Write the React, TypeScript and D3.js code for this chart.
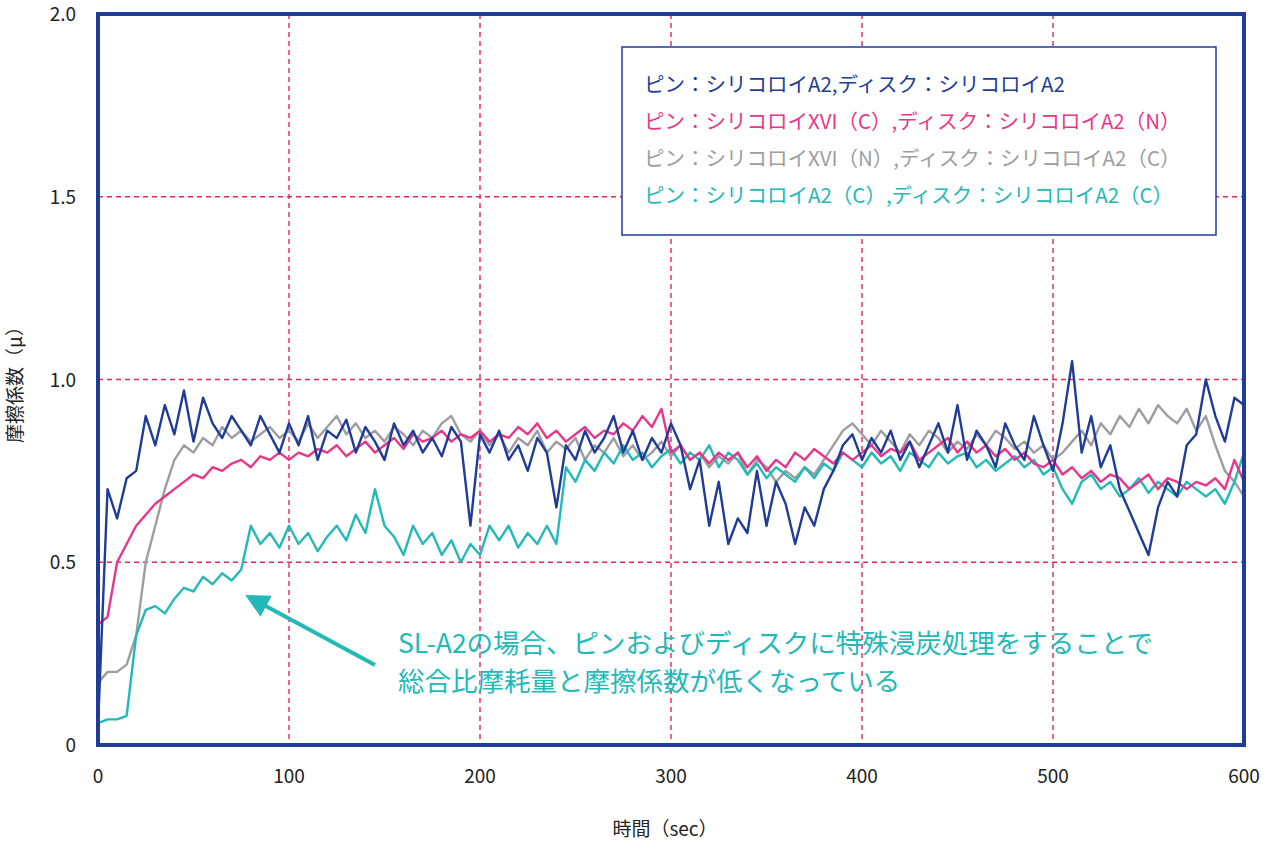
import React from 'react';
import * as d3 from 'd3';

const times = d3.range(0, 601, 5);

const blueValues = [0.05,0.7,0.62,0.73,0.75,0.9,0.82,0.93,0.85,0.97,0.83,0.95,0.88,0.84,0.9,0.86,0.82,0.9,0.85,0.8,0.88,0.82,0.9,0.78,0.86,0.84,0.89,0.8,0.87,0.83,0.78,0.88,0.82,0.86,0.8,0.84,0.79,0.87,0.83,0.6,0.85,0.8,0.86,0.78,0.82,0.75,0.84,0.8,0.65,0.82,0.78,0.86,0.8,0.84,0.9,0.8,0.86,0.78,0.84,0.8,0.88,0.82,0.7,0.78,0.6,0.72,0.55,0.62,0.58,0.75,0.6,0.72,0.66,0.55,0.65,0.6,0.7,0.75,0.82,0.85,0.78,0.84,0.8,0.86,0.78,0.83,0.76,0.82,0.88,0.8,0.93,0.78,0.86,0.82,0.76,0.88,0.82,0.78,0.9,0.82,0.75,0.88,1.05,0.8,0.9,0.76,0.82,0.7,0.64,0.58,0.52,0.65,0.72,0.68,0.82,0.85,1.0,0.9,0.83,0.95,0.93];
const pinkValues = [0.33,0.35,0.5,0.55,0.6,0.63,0.66,0.68,0.7,0.72,0.74,0.73,0.76,0.75,0.77,0.78,0.76,0.79,0.78,0.8,0.78,0.8,0.79,0.81,0.8,0.82,0.79,0.81,0.83,0.8,0.82,0.84,0.81,0.85,0.83,0.84,0.86,0.83,0.85,0.84,0.86,0.83,0.85,0.84,0.87,0.85,0.88,0.84,0.86,0.83,0.85,0.87,0.84,0.86,0.85,0.88,0.86,0.9,0.87,0.92,0.8,0.82,0.78,0.8,0.77,0.8,0.78,0.8,0.76,0.79,0.75,0.78,0.76,0.8,0.78,0.81,0.79,0.77,0.8,0.78,0.8,0.82,0.79,0.81,0.8,0.83,0.78,0.8,0.82,0.84,0.8,0.83,0.8,0.82,0.79,0.81,0.78,0.8,0.77,0.76,0.78,0.74,0.76,0.73,0.75,0.72,0.74,0.73,0.7,0.72,0.74,0.7,0.73,0.72,0.7,0.72,0.71,0.73,0.7,0.78,0.72];
const grayValues = [0.17,0.2,0.2,0.22,0.3,0.5,0.6,0.7,0.78,0.82,0.8,0.84,0.82,0.87,0.84,0.86,0.83,0.85,0.87,0.84,0.86,0.83,0.88,0.84,0.87,0.9,0.85,0.88,0.84,0.86,0.83,0.87,0.85,0.82,0.86,0.84,0.88,0.9,0.85,0.83,0.86,0.82,0.85,0.8,0.84,0.82,0.86,0.8,0.83,0.81,0.84,0.78,0.82,0.8,0.84,0.79,0.82,0.78,0.8,0.83,0.79,0.82,0.78,0.8,0.76,0.79,0.77,0.8,0.74,0.78,0.76,0.72,0.75,0.73,0.76,0.74,0.78,0.82,0.86,0.88,0.85,0.82,0.86,0.83,0.8,0.85,0.82,0.86,0.84,0.8,0.83,0.81,0.85,0.82,0.86,0.84,0.81,0.83,0.8,0.82,0.78,0.8,0.83,0.86,0.82,0.88,0.85,0.9,0.87,0.92,0.88,0.93,0.9,0.88,0.92,0.86,0.9,0.82,0.75,0.72,0.68];
const cyanValues = [0.06,0.07,0.07,0.08,0.3,0.37,0.38,0.36,0.4,0.43,0.42,0.46,0.44,0.47,0.45,0.48,0.6,0.55,0.58,0.54,0.6,0.55,0.58,0.53,0.57,0.6,0.56,0.63,0.58,0.7,0.6,0.57,0.52,0.6,0.55,0.58,0.52,0.56,0.5,0.55,0.52,0.6,0.56,0.6,0.54,0.58,0.55,0.6,0.55,0.76,0.72,0.78,0.75,0.8,0.77,0.82,0.78,0.8,0.76,0.79,0.81,0.77,0.8,0.78,0.82,0.76,0.8,0.78,0.74,0.77,0.73,0.76,0.74,0.72,0.76,0.73,0.77,0.75,0.8,0.78,0.76,0.8,0.77,0.79,0.75,0.8,0.78,0.76,0.8,0.77,0.79,0.8,0.76,0.78,0.75,0.77,0.79,0.76,0.78,0.74,0.76,0.7,0.66,0.72,0.74,0.7,0.72,0.68,0.7,0.73,0.69,0.72,0.7,0.68,0.72,0.7,0.68,0.7,0.66,0.72,0.8];

const xTicks = [0, 100, 200, 300, 400, 500, 600];
const yTicks = [0, 0.5, 1.0, 1.5, 2.0];
const yTickLabels = ['0', '0.5', '1.0', '1.5', '2.0'];

const series = [
  { label: 'ピン：シリコロイXVI（N）,ディスク：シリコロイA2（C）', color: '#9d9da2', values: grayValues },
  { label: 'ピン：シリコロイA2（C）,ディスク：シリコロイA2（C）', color: '#23b9b9', values: cyanValues },
  { label: 'ピン：シリコロイXVI（C）,ディスク：シリコロイA2（N）', color: '#e8378b', values: pinkValues },
  { label: 'ピン：シリコロイA2,ディスク：シリコロイA2', color: '#1f3c96', values: blueValues },
];
const legendOrder = [3, 2, 0, 1];

const FONT = '"Noto Sans CJK JP", "Noto Sans", sans-serif';

export default function App() {
  const left = 98, right = 1244, top = 14, bottom = 745;
  const x = d3.scaleLinear().domain([0, 600]).range([left, right]);
  const y = d3.scaleLinear().domain([0, 2]).range([bottom, top]);
  const line = d3.line<number>().x((_, i) => x(times[i])).y((d) => y(d));

  return (
    <svg width={1265} height={842} style={{ position: 'absolute', left: 0, top: 0 }} fontFamily={FONT}>
      <defs>
        <marker id="arr" viewBox="0 0 10 10" refX="2" refY="5" markerWidth="6" markerHeight="6" orient="auto-start-reverse">
          <path d="M0,0 L10,5 L0,10 z" fill="#23b9b9" />
        </marker>
      </defs>
      {xTicks.slice(1, -1).map((t) => (
        <line key={'gx' + t} x1={x(t)} x2={x(t)} y1={top} y2={bottom} stroke="#e6245f" strokeWidth={1.4} strokeDasharray="5,4" />
      ))}
      {yTicks.slice(1, -1).map((t) => (
        <line key={'gy' + t} x1={left} x2={right} y1={y(t)} y2={y(t)} stroke="#e6245f" strokeWidth={1.4} strokeDasharray="5,4" />
      ))}
      {series.map((s) => (
        <path key={s.label} d={line(s.values) || ''} fill="none" stroke={s.color} strokeWidth={2.4} strokeLinejoin="round" />
      ))}
      <rect x={left} y={top} width={right - left} height={bottom - top} fill="none" stroke="#1f3c96" strokeWidth={4} />
      {yTicks.map((t, i) => (
        <text key={'yt' + t} x={76} y={y(t) + 7} textAnchor="end" fontSize={19} fill="#222">{yTickLabels[i]}</text>
      ))}
      {xTicks.map((t) => (
        <text key={'xt' + t} x={x(t)} y={783} textAnchor="middle" fontSize={19} fill="#222">{t}</text>
      ))}
      <text x={665} y={836} textAnchor="middle" fontSize={19} fill="#222">時間（sec）</text>
      <text transform="translate(22,380) rotate(-90)" textAnchor="middle" fontSize={19} fill="#222">摩擦係数（μ）</text>
      <rect x={622} y={47} width={594} height={188} fill="#fff" stroke="#1f3c96" strokeWidth={1.5} />
      {legendOrder.map((si, i) => (
        <text key={'lg' + si} x={644} y={92 + i * 37} fontSize={20.5} fill={series[si].color}>{series[si].label}</text>
      ))}
      <line x1={375} y1={665} x2={262} y2={604} stroke="#23b9b9" strokeWidth={4} markerEnd="url(#arr)" />
      <text x={398} y={653} fontSize={26.5} fill="#23b9b9">SL-A2の場合、ピンおよびディスクに特殊浸炭処理をすることで</text>
      <text x={398} y={691} fontSize={26.5} fill="#23b9b9">総合比摩耗量と摩擦係数が低くなっている</text>
    </svg>
  );
}
